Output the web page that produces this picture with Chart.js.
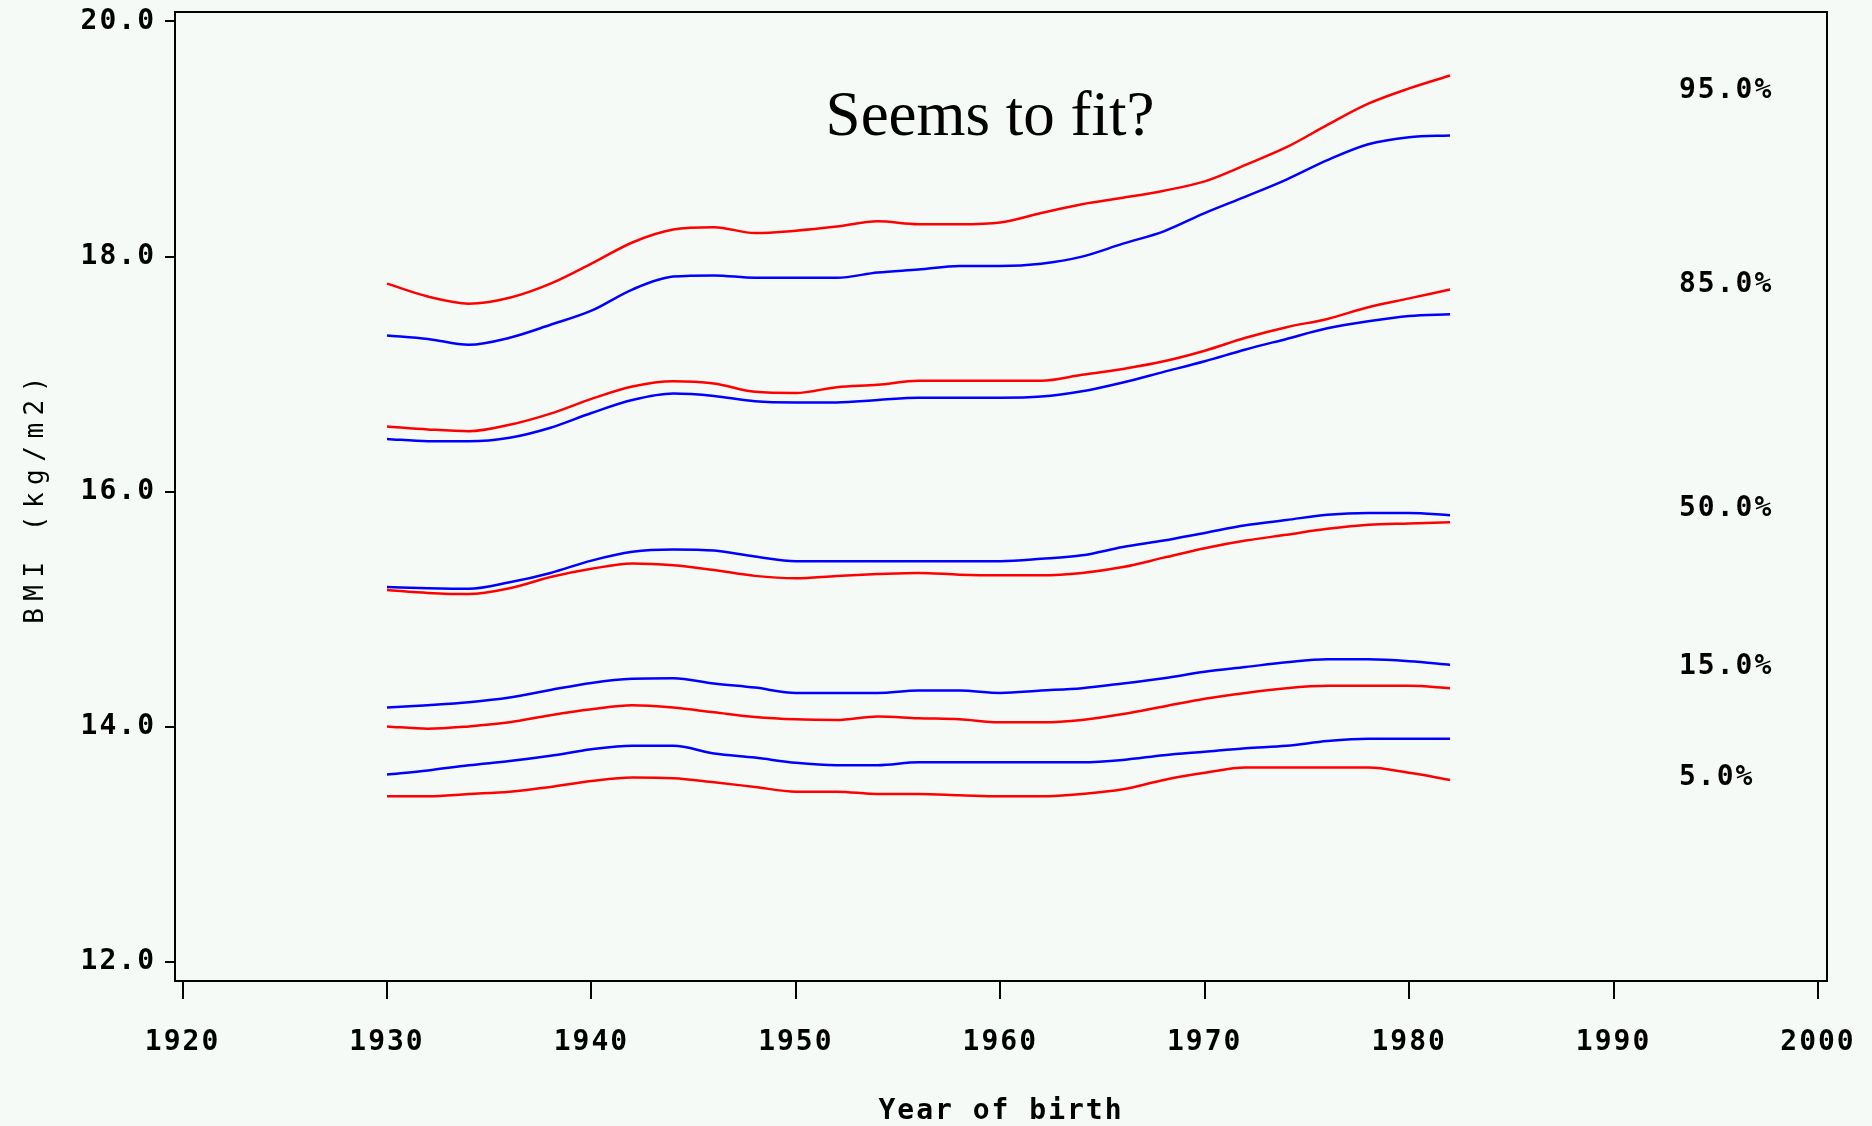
<!DOCTYPE html>
<html>
<head>
<meta charset="utf-8">
<script src="https://cdn.jsdelivr.net/npm/chart.js@4/dist/chart.umd.min.js"></script>
<style>
    html, body { margin: 0; padding: 0; background: #f6faf7; }
    canvas { display: block; }
</style>
</head>
<body>
<canvas id="bmiChart" width="1872" height="1126"></canvas>
<script>
// years of birth (x) and the fitted percentile curves, red and blue pair per percentile
const years = [1930, 1932, 1934, 1936, 1938, 1940, 1942, 1944, 1946, 1948, 1950, 1952, 1954, 1956,
               1958, 1960, 1962, 1964, 1966, 1968, 1970, 1972, 1974, 1976, 1978, 1980, 1982];

const p95Red  = [17.77, 17.66, 17.60, 17.65, 17.77, 17.94, 18.12, 18.23, 18.25, 18.20, 18.22, 18.255, 18.30, 18.275,
                 18.275, 18.29, 18.37, 18.445, 18.50, 18.56, 18.64, 18.78, 18.93, 19.12, 19.30, 19.43, 19.54];
const p95Blue = [17.33, 17.30, 17.25, 17.31, 17.42, 17.54, 17.72, 17.83, 17.84, 17.82, 17.82, 17.82, 17.865, 17.89,
                 17.92, 17.92, 17.94, 18.00, 18.11, 18.215, 18.37, 18.51, 18.655, 18.82, 18.955, 19.015, 19.03];
const p85Red  = [16.555, 16.53, 16.515, 16.57, 16.665, 16.79, 16.895, 16.94, 16.92, 16.85, 16.84, 16.89, 16.91, 16.945,
                 16.945, 16.945, 16.945, 16.995, 17.045, 17.11, 17.20, 17.31, 17.40, 17.47, 17.57, 17.645, 17.72];
const p85Blue = [16.45, 16.43, 16.43, 16.46, 16.545, 16.67, 16.78, 16.835, 16.815, 16.77, 16.76, 16.76, 16.78, 16.80,
                 16.80, 16.80, 16.81, 16.855, 16.93, 17.02, 17.11, 17.21, 17.30, 17.39, 17.45, 17.495, 17.51];
const p50Red  = [15.165, 15.14, 15.13, 15.18, 15.275, 15.345, 15.39, 15.375, 15.335, 15.285, 15.265, 15.285, 15.30, 15.31,
                 15.295, 15.29, 15.29, 15.31, 15.36, 15.44, 15.52, 15.585, 15.635, 15.685, 15.72, 15.73, 15.74];
const p50Blue = [15.19, 15.18, 15.175, 15.23, 15.31, 15.415, 15.49, 15.51, 15.50, 15.45, 15.41, 15.41, 15.41, 15.41,
                 15.41, 15.41, 15.43, 15.46, 15.53, 15.585, 15.65, 15.715, 15.76, 15.805, 15.82, 15.82, 15.80];
const p15Red  = [14.005, 13.985, 14.005, 14.04, 14.10, 14.15, 14.185, 14.165, 14.125, 14.085, 14.065, 14.06, 14.09, 14.075,
                 14.065, 14.04, 14.04, 14.06, 14.11, 14.175, 14.24, 14.29, 14.33, 14.35, 14.35, 14.35, 14.33];
const p15Blue = [14.165, 14.185, 14.21, 14.25, 14.315, 14.375, 14.41, 14.415, 14.37, 14.335, 14.29, 14.29, 14.29, 14.31,
                 14.31, 14.29, 14.31, 14.33, 14.37, 14.415, 14.47, 14.51, 14.55, 14.575, 14.575, 14.56, 14.53];
const p5Red   = [13.41, 13.41, 13.43, 13.45, 13.49, 13.54, 13.57, 13.565, 13.53, 13.49, 13.45, 13.45, 13.43, 13.43,
                 13.42, 13.41, 13.41, 13.43, 13.47, 13.55, 13.61, 13.655, 13.655, 13.655, 13.655, 13.61, 13.55];
const p5Blue  = [13.595, 13.63, 13.675, 13.71, 13.755, 13.81, 13.84, 13.84, 13.775, 13.74, 13.695, 13.675, 13.675, 13.70,
                 13.70, 13.70, 13.70, 13.70, 13.72, 13.76, 13.79, 13.82, 13.84, 13.88, 13.90, 13.90, 13.90];

const yTicks = [12, 14, 16, 18, 20];
const xTicks = [1920, 1930, 1940, 1950, 1960, 1970, 1980, 1990, 2000];

// percentile labels at the right, in data units
const pctLabels = ['95.0%', '85.0%', '50.0%', '15.0%', '5.0%'];
const pctLabelY = [19.41, 17.76, 15.855, 14.51, 13.57];
const pctLabelX = 1993.2;

const note = 'Seems to fit?';
const noteAt = [1959.5, 19.035];
const xTitle = 'Year of birth';
const yTitle = 'BMI (kg/m2)';

const RED = '#ff0000';
const BLUE = '#0000ff';
const tickFont = { family: '"DejaVu Sans Mono", monospace', size: 28, weight: 'bold' };

const toPoints = arr => years.map((yr, i) => ({ x: yr, y: arr[i] }));

const curve = (label, arr, color) => ({
    label,
    data: toPoints(arr),
    borderColor: color,
    borderWidth: 2.5,
    pointRadius: 0,
    fill: false,
    cubicInterpolationMode: 'monotone'
});

// frame, right-hand labels, note text and rotated y title
const decor = {
    id: 'decor',
    beforeDraw(chart) {
        chart.ctx.letterSpacing = '2px';
    },
    afterDraw(chart) {
        const { ctx, chartArea: a, scales: { x, y } } = chart;
        ctx.save();
        ctx.strokeStyle = '#000';
        ctx.lineWidth = 2;
        ctx.strokeRect(a.left, a.top, a.right - a.left, a.bottom - a.top);

        ctx.fillStyle = '#000';
        ctx.font = 'bold 28px "DejaVu Sans Mono"';
        ctx.letterSpacing = '2px';
        ctx.textAlign = 'left';
        ctx.textBaseline = 'middle';
        pctLabels.forEach((t, i) => {
            ctx.fillText(t, x.getPixelForValue(pctLabelX), y.getPixelForValue(pctLabelY[i]));
        });

        ctx.letterSpacing = '0px';
        ctx.font = '63px "Liberation Serif"';
        ctx.textAlign = 'center';
        ctx.textBaseline = 'alphabetic';
        ctx.fillText(note, x.getPixelForValue(noteAt[0]), y.getPixelForValue(noteAt[1]));

        ctx.font = '26px "DejaVu Sans Mono"';
        ctx.letterSpacing = '7.5px';
        ctx.translate(y.left + 36, (a.top + a.bottom) / 2);
        ctx.rotate(-Math.PI / 2);
        ctx.textBaseline = 'middle';
        ctx.fillText(yTitle, 0, 0);
        ctx.restore();
    }
};

new Chart(document.getElementById('bmiChart'), {
    type: 'line',
    data: {
        datasets: [
            curve('95% red', p95Red, RED), curve('95% blue', p95Blue, BLUE),
            curve('85% red', p85Red, RED), curve('85% blue', p85Blue, BLUE),
            curve('50% red', p50Red, RED), curve('50% blue', p50Blue, BLUE),
            curve('15% red', p15Red, RED), curve('15% blue', p15Blue, BLUE),
            curve('5% red', p5Red, RED), curve('5% blue', p5Blue, BLUE)
        ]
    },
    options: {
        responsive: false,
        animation: false,
        layout: { padding: { top: 12, right: 45, left: 0, bottom: 0 } },
        plugins: { legend: { display: false }, tooltip: { enabled: false } },
        scales: {
            x: {
                type: 'linear',
                min: 1919.63,
                max: 2000.44,
                afterBuildTicks: s => { s.ticks = xTicks.map(v => ({ value: v })); },
                afterFit: s => { s.height = 145; s.paddingLeft = 0; s.paddingRight = 0; },
                ticks: { callback: v => String(v), font: tickFont, color: '#000', padding: 27, autoSkip: false, maxRotation: 0 },
                grid: { drawOnChartArea: false, drawTicks: true, tickLength: 18, color: '#000', lineWidth: 2 },
                border: { display: true, color: '#000', width: 2 },
                title: { display: true, text: xTitle, font: { ...tickFont, lineHeight: 1.0 }, color: '#000', padding: { top: 0, bottom: 0 } }
            },
            y: {
                min: 11.84,
                max: 20.08,
                afterBuildTicks: s => { s.ticks = yTicks.map(v => ({ value: v })); },
                afterFit: s => { s.width = 175; s.paddingTop = 0; s.paddingBottom = 0; },
                ticks: { callback: v => v.toFixed(1), font: tickFont, color: '#000', padding: 9, autoSkip: false },
                grid: { drawOnChartArea: false, drawTicks: true, tickLength: 10, color: '#000', lineWidth: 2 },
                border: { display: true, color: '#000', width: 2 }
            }
        }
    },
    plugins: [decor]
});
</script>
</body>
</html>
